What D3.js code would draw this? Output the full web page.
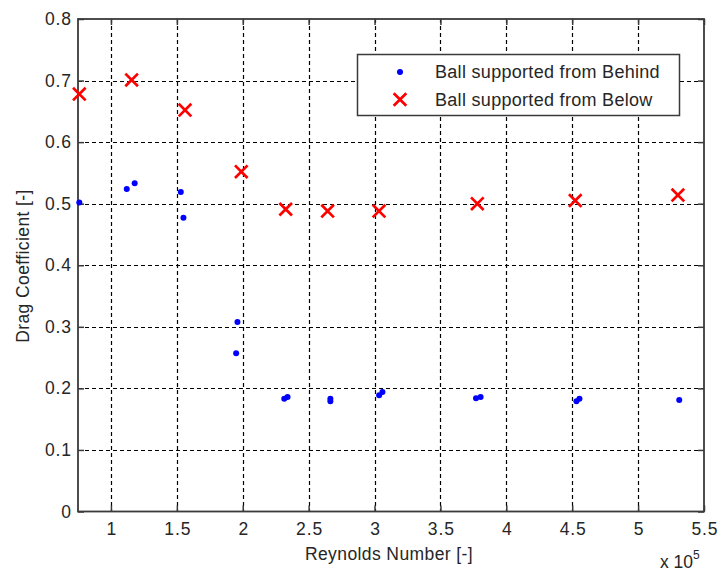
<!DOCTYPE html>
<html>
<head>
<meta charset="utf-8">
<script src="https://cdn.jsdelivr.net/npm/d3@7"></script>
<style>
  html, body { margin: 0; padding: 0; background: #fff; }
  svg { display: block; font-family: "Liberation Sans", Arial, sans-serif; }
</style>
</head>
<body>
<svg id="chart" width="718" height="572"></svg>
<script>
// ---- Data (Reynolds number, drag coefficient) ----
const behindRe = [76000, 112000, 118000, 153000, 155000, 195000, 196000, 231500, 234000, 266500, 266500, 303500, 306000, 377000, 380500, 453200, 455500, 531200];
const behindCd = [0.502, 0.524, 0.533, 0.519, 0.477, 0.257, 0.308, 0.183, 0.186, 0.183, 0.179, 0.189, 0.194, 0.184, 0.186, 0.179, 0.183, 0.181];

const belowRe = [76000, 115700, 156200, 198900, 232600, 264400, 303400, 378000, 452300, 530200];
const belowCd = [0.678, 0.701, 0.652, 0.552, 0.491, 0.488, 0.488, 0.500, 0.505, 0.514];

const xTicks = [100000, 150000, 200000, 250000, 300000, 350000, 400000, 450000, 500000, 550000];
const xTickLabels = ["1", "1.5", "2", "2.5", "3", "3.5", "4", "4.5", "5", "5.5"];
const yTicks = [0, 0.1, 0.2, 0.3, 0.4, 0.5, 0.6, 0.7, 0.8];
const yTickLabels = ["0", "0.1", "0.2", "0.3", "0.4", "0.5", "0.6", "0.7", "0.8"];

const seriesNames = ["Ball supported from Behind", "Ball supported from Below"];
const xLabel = "Reynolds Number [-]";
const yLabel = "Drag Coefficient [-]";

// ---- Layout ----
const L = 78, R = 704, T = 19, B = 511.5;
const svg = d3.select("#chart");
const x = d3.scaleLinear().domain([75000, 550000]).range([L, R]);
const y = d3.scaleLinear().domain([0, 0.8]).range([B, T]);
const textColor = "#262626";
const frameColor = "#3a3a3a";

// Grid
const grid = svg.append("g");
grid.selectAll("line.gx").data(xTicks.slice(0, -1)).join("line")
  .attr("x1", d => Math.round(x(d)) + 0.5).attr("x2", d => Math.round(x(d)) + 0.5)
  .attr("y1", T).attr("y2", B)
  .attr("stroke", "#000").attr("stroke-width", 1.2).attr("stroke-dasharray", "4,3");
grid.selectAll("line.gy").data(yTicks.slice(1, -1)).join("line")
  .attr("x1", L).attr("x2", R)
  .attr("y1", d => Math.round(y(d)) + 0.5).attr("y2", d => Math.round(y(d)) + 0.5)
  .attr("stroke", "#000").attr("stroke-width", 1.2).attr("stroke-dasharray", "4,3");

// Axes (MATLAB style: ticks inward on all sides)
const tickLen = 6;
const fmtX = (d, i) => xTickLabels[i];
const fmtY = (d, i) => yTickLabels[i];

const axB = svg.append("g").attr("transform", `translate(0,${B})`)
  .call(d3.axisBottom(x).tickValues(xTicks).tickFormat(fmtX).tickSizeInner(-tickLen).tickSizeOuter(0).tickPadding(11));
const axT = svg.append("g").attr("transform", `translate(0,${T})`)
  .call(d3.axisTop(x).tickValues(xTicks).tickFormat("").tickSizeInner(-tickLen).tickSizeOuter(0));
const axL = svg.append("g").attr("transform", `translate(${L},0)`)
  .call(d3.axisLeft(y).tickValues(yTicks).tickFormat(fmtY).tickSizeInner(-tickLen).tickSizeOuter(0).tickPadding(6));
const axR = svg.append("g").attr("transform", `translate(${R},0)`)
  .call(d3.axisRight(y).tickValues(yTicks).tickFormat("").tickSizeInner(-tickLen).tickSizeOuter(0));

[axB, axT, axL, axR].forEach(g => {
  g.select(".domain").remove();
  g.selectAll(".tick line").attr("stroke", frameColor).attr("stroke-width", 1.5);
  g.selectAll(".tick text").attr("fill", textColor).style("font-size", "17.5px").style("letter-spacing", "0.9px");
});
axB.selectAll(".tick text").attr("dy", "0.71em").attr("dx", "0.45px");

// Frame
svg.append("rect").attr("x", L).attr("y", T).attr("width", R - L).attr("height", B - T)
  .attr("fill", "none").attr("stroke", frameColor).attr("stroke-width", 1.8);

// Data: behind (blue dots)
svg.append("g").selectAll("circle").data(behindRe.map((r, i) => [r, behindCd[i]])).join("circle")
  .attr("cx", d => x(d[0])).attr("cy", d => y(d[1])).attr("r", 3)
  .attr("fill", "#0000ff");

// Data: below (red X)
const xs = 6.3;
const xg = svg.append("g").selectAll("g").data(belowRe.map((r, i) => [r, belowCd[i]])).join("g")
  .attr("transform", d => `translate(${x(d[0])},${y(d[1])})`);
xg.append("path").attr("d", `M${-xs},${-xs}L${xs},${xs}M${-xs},${xs}L${xs},${-xs}`)
  .attr("stroke", "#ff0000").attr("stroke-width", 2.7).attr("fill", "none");

// Axis labels
svg.append("text").attr("x", 389).attr("y", 560).attr("text-anchor", "middle")
  .attr("fill", textColor).style("font-size", "17.5px").style("letter-spacing", "0.4px").text(xLabel);
svg.append("text").attr("transform", "translate(29,266) rotate(-90)").attr("text-anchor", "middle")
  .attr("fill", textColor).style("font-size", "17.5px").style("letter-spacing", "0.4px").text(yLabel);

// Exponent
const ex = svg.append("text").attr("x", 660).attr("y", 568).attr("fill", textColor).style("font-size", "17.5px");
ex.append("tspan").text("x 10");
ex.append("tspan").attr("dy", -9).style("font-size", "12px").text("5");

// Legend
const lg = svg.append("g");
lg.append("rect").attr("x", 357.5).attr("y", 54.5).attr("width", 322).attr("height", 61)
  .attr("fill", "#fff").attr("stroke", frameColor).attr("stroke-width", 1.5);
lg.append("circle").attr("cx", 400).attr("cy", 72).attr("r", 3).attr("fill", "#0000ff");
lg.append("path").attr("d", `M${400 - xs},${99.5 - xs}L${400 + xs},${99.5 + xs}M${400 - xs},${99.5 + xs}L${400 + xs},${99.5 - xs}`)
  .attr("stroke", "#ff0000").attr("stroke-width", 2.7).attr("fill", "none");
lg.selectAll("text").data(seriesNames).join("text")
  .attr("x", 435).attr("y", (d, i) => 72 + i * 27.5).attr("dy", "0.36em")
  .attr("fill", textColor).style("font-size", "18px").style("letter-spacing", "0.3px").text(d => d);
</script>
</body>
</html>
